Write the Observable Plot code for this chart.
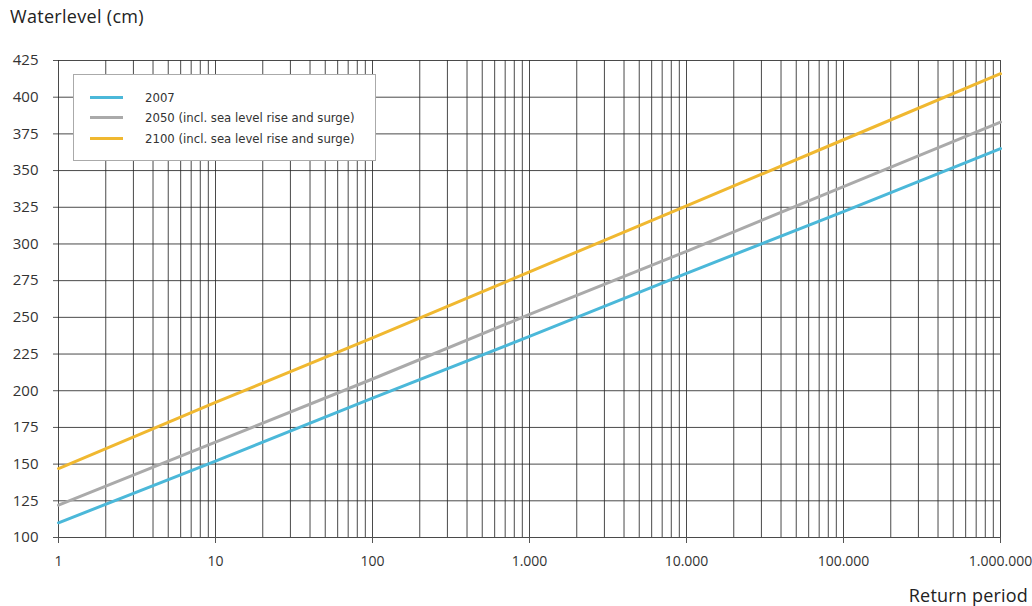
<!DOCTYPE html>
<html>
<head>
<meta charset="utf-8">
<script src="https://cdn.jsdelivr.net/npm/d3@7"></script>
<script src="https://cdn.jsdelivr.net/npm/@observablehq/plot@0.6"></script>
<style>
  html, body { margin: 0; padding: 0; background: #fff; }
  body { width: 1032px; height: 606px; position: relative; overflow: hidden; font-family: "Open Sans", "Noto Sans", sans-serif; color: #222; }
  #title { position: absolute; left: 10px; top: 4px; font-size: 18px; letter-spacing: 0.3px; }
  #chart { position: absolute; left: 0; top: 35px; }
  #xlabel { position: absolute; right: 4px; top: 583px; font-size: 18px; letter-spacing: 0.2px; }
  #legend { position: absolute; left: 73px; top: 74px; width: 303px; height: 87px; background: #fff; border: 1px solid #aaa; box-sizing: border-box; font-family: "Liberation Sans Narrow", "DejaVu Sans Condensed", sans-serif; font-size: 13px; color: #333; }
  .row { position: absolute; left: 16px; height: 20px; display: flex; align-items: center; }
  .sw { width: 33px; height: 3px; margin-right: 22px; }
</style>
</head>
<body>
<div id="title">Waterlevel (cm)</div>
<div id="chart"></div>
<div id="legend"></div>
<div id="xlabel">Return period</div>
<script>
// Data
const returnPeriods = [1, 10, 100, 1000, 10000, 100000, 1000000];
const level2007 = [110, 152, 195, 237, 280, 322, 365];
const level2050 = [122, 165, 208, 252, 295, 339, 383];
const level2100 = [147, 192, 236, 281, 326, 371, 416];
const seriesNames = ["2007", "2050 (incl. sea level rise and surge)", "2100 (incl. sea level rise and surge)"];
const seriesColors = ["#4bb8d9", "#aaaaaa", "#f0b830"];
const xTicks = [1, 10, 100, 1000, 10000, 100000, 1000000];
const xTickLabels = ["1", "10", "100", "1.000", "10.000", "100.000", "1.000.000"];
const yTicks = [100, 125, 150, 175, 200, 225, 250, 275, 300, 325, 350, 375, 400, 425];

const seriesValues = [level2007, level2050, level2100];
const rows = [];
seriesValues.forEach((vals, i) => {
  vals.forEach((v, j) => rows.push({series: seriesNames[i], x: returnPeriods[j], y: v}));
});

// minor grid positions (1..9 × each decade)
const minorGrid = [];
for (let d = 1; d < 1000000; d *= 10) for (let k = 1; k <= 9; k++) minorGrid.push(d * k);
minorGrid.push(1000000);

const plot = Plot.plot({
  width: 1032,
  height: 550,
  marginLeft: 58,
  marginRight: 32,
  marginTop: 25,
  marginBottom: 48,
  style: {fontFamily: "'Open Sans', 'Noto Sans', sans-serif", fontSize: "15px", color: "#333", background: "#fff"},
  x: {type: "log", domain: [1, 1000000]},
  y: {domain: [100, 425]},
  color: {domain: seriesNames, range: seriesColors},
  marks: [
    Plot.ruleX(minorGrid, {x: d => d, stroke: "#2a2a2a", strokeWidth: 1, strokeOpacity: 0.85}),
    Plot.ruleY(yTicks, {y: d => d, stroke: "#2a2a2a", strokeWidth: 1, strokeOpacity: 0.85}),
    Plot.axisY(yTicks, {ticks: yTicks, tickSize: 5, tickPadding: 15, label: null, stroke: "#555", fill: "#333"}),
    Plot.axisX(xTicks, {ticks: xTicks, tickSize: 6, tickPadding: 13, label: null, stroke: "#555", fill: "#333", fontSize: 14,
      tickFormat: d => xTickLabels[xTicks.indexOf(d)]}),
    Plot.line(rows, {x: "x", y: "y", z: "series", stroke: "series", strokeWidth: 3})
  ]
});
document.getElementById("chart").appendChild(plot);

// legend
const legend = document.getElementById("legend");
const rowTops = [12, 32, 53];
seriesNames.forEach((name, i) => {
  const r = document.createElement("div");
  r.className = "row";
  r.style.top = rowTops[i] + "px";
  r.innerHTML = `<span class="sw" style="background:${seriesColors[i]}"></span><span>${name}</span>`;
  legend.appendChild(r);
});
</script>
</body>
</html>
